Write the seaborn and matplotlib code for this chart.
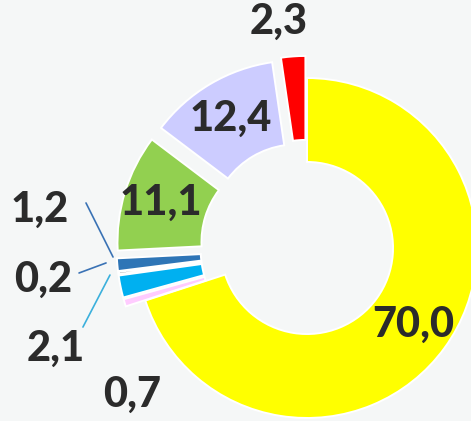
import numpy as np
import seaborn as sns
from matplotlib import pyplot as plt

# slice values, clockwise from 12 o'clock
labels = ["70,0", "0,7", "2,1", "0,2", "1,2", "11,1", "12,4", "2,3"]
values = [70.0, 0.7, 2.1, 0.2, 1.2, 11.1, 12.4, 2.3]
colors = ["#FFFF00", "#FFCCFF", "#00B0F0", "#000000", "#2E75B6",
          "#92D050", "#CCCCFF", "#FF0000"]
explode = [0.0, 0.12, 0.12, 0.12, 0.12, 0.12, 0.12, 0.13]

bg = "#F5F7F7"
txt = "#2B2B2B"

sns.set_theme(style="white")
plt.rcParams["font.family"] = ["Lato", "DejaVu Sans"]

fig = plt.figure(figsize=(4.71, 4.21), dpi=100, facecolor=bg)
ax = fig.add_axes([0, 0, 1, 1])
ax.set_facecolor(bg)

wedges, _ = ax.pie(values, colors=colors, explode=explode, startangle=90,
                   counterclock=False, radius=1.0,
                   wedgeprops=dict(width=0.494, edgecolor="white", linewidth=1.4))

lab_kw = dict(ha="center", va="center", fontsize=30, fontweight="black", color=txt)

# labels inside the ring (yellow, green, lavender)
inside = {0: 0.77, 5: 0.78, 6: 0.76}
for i, r in inside.items():
    w = wedges[i]
    th = np.deg2rad((w.theta1 + w.theta2) / 2)
    cx, cy = w.center
    ax.text(cx + r * np.cos(th), cy + r * np.sin(th), labels[i], **lab_kw)

# labels outside, with leader lines for the thin slices
outside = {7: (-0.165, 1.33), 4: (-1.571, 0.225), 3: (-1.553, -0.19),
           2: (-1.476, -0.595), 1: (-1.029, -0.865)}
for i, (x, y) in outside.items():
    ax.text(x, y, labels[i], **lab_kw)

leaders = [((-1.30, 0.265), (-1.141, -0.053), "#3A72B5"),
           ((-1.341, -0.147), (-1.182, -0.088), "#3A72B5"),
           ((-1.318, -0.465), (-1.159, -0.159), "#3BB0DC")]
for (x0, y0), (x1, y1), c in leaders:
    ax.plot([x0, x1], [y0, y1], color=c, lw=1.2)

ax.set_aspect("auto")
ax.set_xlim(-307 / 170, (471 - 307) / 170)
ax.set_ylim(-(421 - 248) / 170, 248 / 170)
ax.axis("off")

fig.savefig("out.png", dpi=100, facecolor=bg)
